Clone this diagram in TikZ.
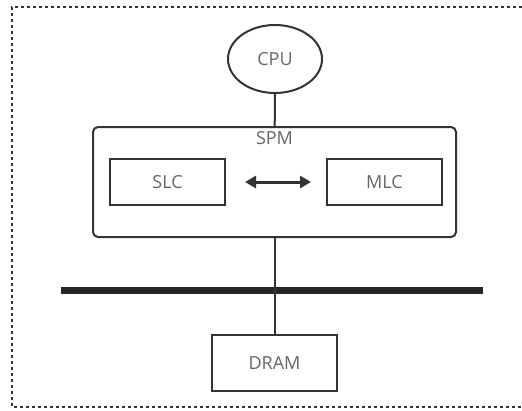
\documentclass[tikz,border=0pt]{standalone}
\usepackage{fontspec}
\setmainfont{Open Sans}
\usetikzlibrary{shapes,arrows.meta,positioning}

\begin{document}
\begin{tikzpicture}[
        x=1pt, y=-1pt,
        every node/.style={text=black!60, font=\fontsize{18}{20}\selectfont},
        unit/.style={draw=black!80, line width=2pt, rectangle, inner sep=0pt, minimum width=115pt, minimum height=46pt},
        link/.style={draw=black!80, line width=2pt},
        busline/.style={draw=black!85, line width=7pt},
        dualarrow/.style={{Triangle[length=11pt,width=12pt]}-{Triangle[length=11pt,width=12pt]}, line width=3pt, draw=black!80}
    ]
        \useasboundingbox (0,0) rectangle (522,410);

        % Frame
        \draw[black!80, line width=1.6pt, dash pattern=on 3pt off 3pt] (522,7) -- (12,7) -- (12,407) -- (522,407);

        % CPU
        \node[link, ellipse, minimum width=94pt, minimum height=68pt, inner sep=0pt] (cpu) at (275,59) {CPU};

        % SPM with its two parts
        \node[link, rectangle, rounded corners=5pt, minimum width=363pt, minimum height=110pt, inner sep=0pt] (spm) at (274.5,182) {};
        \node[below=5pt of spm.north, inner sep=0pt] (spmlabel) {SPM};
        \node[unit] (slc) at (167.5,182) {SLC};
        \node[unit] (mlc) at (384.5,182) {MLC};

        % Bus
        \coordinate (busl) at (61,290);
        \coordinate (busr) at (483,290);
        \draw[busline] (busl) -- (busr);

        % DRAM
        \node[unit, minimum width=125pt, minimum height=56pt] (dram) at (274.5,363) {DRAM};

        % Connections
        \draw[link] (cpu) -- (spm);
        \draw[link] (spm) -- (dram);
        \draw[dualarrow, shorten <=19pt, shorten >=15pt] (slc) -- (mlc);
    \end{tikzpicture}
\end{document}
